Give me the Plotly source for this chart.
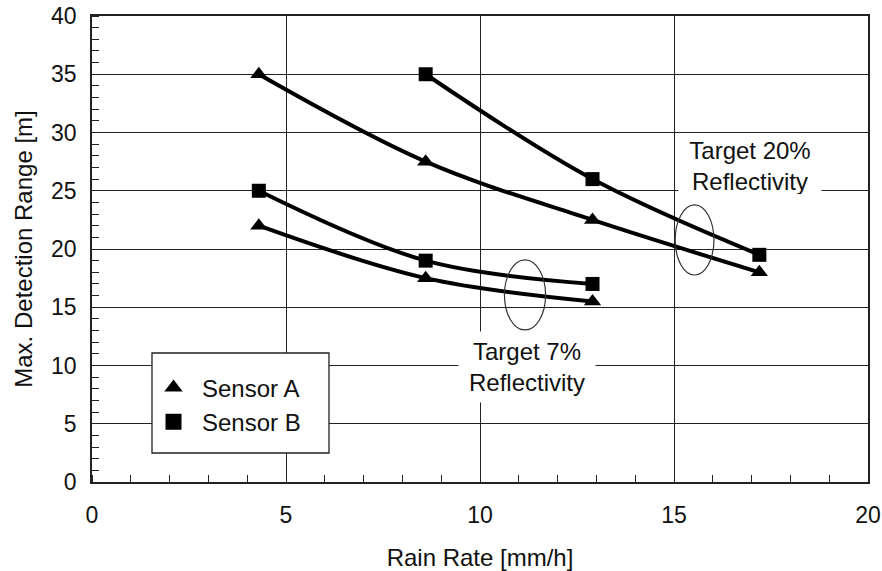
import plotly.graph_objects as go

rain_rate = [4.3, 8.6, 12.9, 17.2]

# Target 20% reflectivity
a20_x = [4.3, 8.6, 12.9, 17.2]
a20_y = [35.0, 27.5, 22.5, 18.0]
b20_x = [8.6, 12.9, 17.2]
b20_y = [35.0, 26.0, 19.5]

# Target 7% reflectivity
a7_x = [4.3, 8.6, 12.9]
a7_y = [22.0, 17.5, 15.5]
b7_x = [4.3, 8.6, 12.9]
b7_y = [25.0, 19.0, 17.0]

x_ticks = [0, 5, 10, 15, 20]
y_ticks = [0, 5, 10, 15, 20, 25, 30, 35, 40]

FONT = "Liberation Sans, Arial, sans-serif"
INK = "#111111"

fig = go.Figure()

def add_series(xs, ys, symbol, size):
    fig.add_trace(go.Scatter(
        x=xs, y=ys, mode="lines+markers", showlegend=False,
        line=dict(color="black", width=4, shape="spline", smoothing=1.0),
        marker=dict(symbol=symbol, size=size, color="black"),
        hoverinfo="x+y"))

add_series(a20_x, a20_y, "triangle-up", 15)
add_series(b20_x, b20_y, "square", 14)
add_series(a7_x, a7_y, "triangle-up", 15)
add_series(b7_x, b7_y, "square", 14)

# legend-only entries
fig.add_trace(go.Scatter(x=[None], y=[None], mode="markers", name="Sensor A",
                         marker=dict(symbol="triangle-up", size=18, color="black")))
fig.add_trace(go.Scatter(x=[None], y=[None], mode="markers", name="Sensor B",
                         marker=dict(symbol="square", size=16, color="black")))

# legend frame (white box hiding grid)
fig.add_shape(type="rect", xref="paper", yref="paper",
              x0=0.0773, x1=0.3054, y0=0.0622, y1=0.2768,
              fillcolor="white", line=dict(color="#222222", width=1.3), layer="above")

# ellipses
fig.add_shape(type="circle", xref="x", yref="y", x0=10.63, x1=11.69, y0=13.05, y1=19.06,
              line=dict(color="#333333", width=1.2), layer="above")
fig.add_shape(type="circle", xref="x", yref="y", x0=15.03, x1=16.03, y0=17.77, y1=23.78,
              line=dict(color="#333333", width=1.2), layer="above")

fig.add_annotation(x=16.96, y=27.1, xref="x", yref="y", showarrow=False,
                   text="Target 20%<br>Reflectivity", bgcolor="white", borderpad=3,
                   width=136, height=56, font=dict(family=FONT, size=24, color=INK))
fig.add_annotation(x=11.21, y=9.87, xref="x", yref="y", showarrow=False,
                   text="Target 7%<br>Reflectivity", bgcolor="white", borderpad=6,
                   width=124, font=dict(family=FONT, size=24, color=INK))

axis_common = dict(
    showline=True, linecolor="#222222", linewidth=1.5, mirror=True,
    showgrid=True, gridcolor="#222222", gridwidth=1.3,
    zeroline=False, ticks="", automargin=False, ticklabeloverflow="allow",
    tickfont=dict(family=FONT, size=23, color=INK),
    minor=dict(ticks="inside", dtick=1, ticklen=7, tickcolor="#222222", tickwidth=1.3, showgrid=False),
)

fig.update_xaxes(range=[0, 20], tickvals=x_ticks, ticktext=[str(v) for v in x_ticks],
                 ticklabelstandoff=12,
                 title=dict(text="Rain Rate [mm/h]", font=dict(family=FONT, size=24, color=INK), standoff=23),
                 **axis_common)
fig.update_yaxes(range=[0, 40], tickvals=y_ticks, ticktext=[str(v) for v in y_ticks],
                 ticklabelstandoff=9,
                 title=dict(text="Max. Detection Range [m]", font=dict(family=FONT, size=24, color=INK), standoff=12),
                 **axis_common)

fig.update_layout(
    width=882, height=571,
    margin=dict(l=92, r=14, t=16, b=89),
    plot_bgcolor="white", paper_bgcolor="white",
    font=dict(family=FONT, size=22, color=INK),
    legend=dict(x=0.0683, y=0.25, xanchor="left", yanchor="top",
                bgcolor="rgba(0,0,0,0)", borderwidth=0,
                font=dict(family=FONT, size=24, color=INK),
                itemwidth=47, tracegroupgap=0),
    showlegend=True,
)

fig.write_html("out.html",
               config={"displayModeBar": False},
               post_script="document.body.style.margin='0';document.body.style.overflow='hidden';")
